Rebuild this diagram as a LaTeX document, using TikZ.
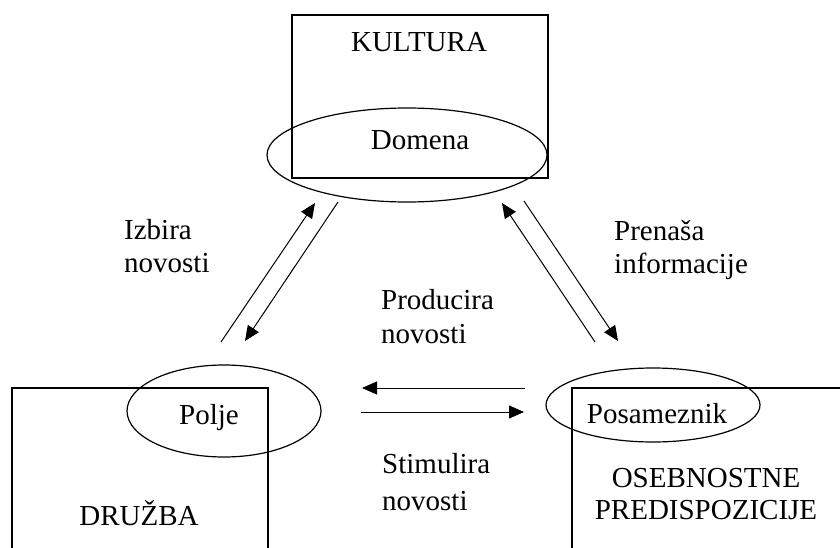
\documentclass[tikz,border=0pt]{standalone}
\usepackage{fontspec}
\setmainfont{Liberation Serif}
\usetikzlibrary{arrows.meta,shapes.geometric}
\begin{document}
\begin{tikzpicture}[x=1pt,y=-1pt,
  box/.style={draw, line width=1.3pt, inner sep=0pt},
  oval/.style={draw, ellipse, line width=1.2pt, inner sep=0pt},
  lbl/.style={font=\fontsize{29}{33}\selectfont, inner sep=0pt, align=left, anchor=base west},
  txt/.style={font=\fontsize{29}{32}\selectfont, inner sep=0pt, anchor=base},
  conn/.style={line width=1pt, -{Triangle[length=15pt,width=13pt]}}]
\useasboundingbox (0,0) rectangle (840,548);
% top
\node[box, minimum width=256pt, minimum height=163pt] (kultura) at (420,96.5) {};
\node[oval, minimum width=280pt, minimum height=94pt] (domena) at (407,155) {};
\node[txt] (kulturat) at (419,52) {KULTURA};
\node[txt] (domenat) at (420,150) {Domena};
% bottom left
\node[box, minimum width=256pt, minimum height=180pt] (druzba) at (140,478) {};
\node[oval, minimum width=194pt, minimum height=92pt] (polje) at (224,411) {};
\node[txt] (poljet) at (209,424) {Polje};
\node[txt] (druzbat) at (139,525) {DRUŽBA};
% bottom right
\node[box, minimum width=296pt, minimum height=180pt] (osebne) at (720,478) {};
\node[oval, minimum width=214pt, minimum height=74pt] (posam) at (653,405) {};
\node[txt] (posamt) at (657,423) {Posameznik};
\node[txt, align=center] (osebnet) at (706,519) {OSEBNOSTNE\\PREDISPOZICIJE};
% labels (anchor = baseline of last line)
\node[lbl] (izbira) at (124,272) {Izbira\\novosti};
\node[lbl] (prenasa) at (614,273) {Prenaša\\informacije};
\node[lbl, font=\fontsize{29}{34}\selectfont] (producira) at (381,343) {Producira\\novosti};
\node[lbl, font=\fontsize{29}{37}\selectfont] (stimulira) at (382,510) {Stimulira\\novosti};
% connector ends
\coordinate (a1) at (221,342); \coordinate (a2) at (315,203);
\coordinate (b1) at (338,202); \coordinate (b2) at (245,341);
\coordinate (c1) at (595,342); \coordinate (c2) at (502,203);
\coordinate (d1) at (524,201); \coordinate (d2) at (618,341);
\coordinate (e1) at (525,388); \coordinate (e2) at (362,388);
\coordinate (f1) at (361,412); \coordinate (f2) at (524,412);
\draw[conn] (a1) -- (a2);
\draw[conn] (b1) -- (b2);
\draw[conn] (c1) -- (c2);
\draw[conn] (d1) -- (d2);
\draw[conn] (e1) -- (e2);
\draw[conn] (f1) -- (f2);
\end{tikzpicture}
\end{document}
